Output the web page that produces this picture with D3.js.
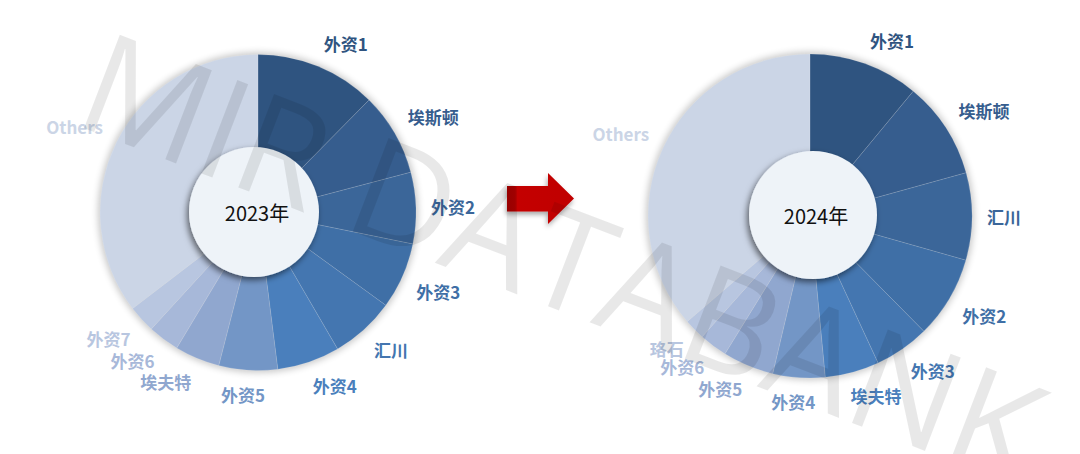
<!DOCTYPE html>
<html>
<head>
<meta charset="utf-8">
<script src="https://cdn.jsdelivr.net/npm/d3@7"></script>
<style>
  html, body { margin: 0; padding: 0; background: #ffffff; }
  svg { display: block; }
</style>
</head>
<body>
<svg id="chart" width="1080" height="454"></svg>
<script>
// ---------------- DATA ----------------
const categories2023 = ["外资1", "埃斯顿", "外资2", "外资3", "汇川", "外资4", "外资5", "埃夫特", "外资6", "外资7", "Others"];
const values2023     = [12.4, 8.5, 7.3, 6.8, 6.6, 6.4, 6.0, 4.6, 3.2, 2.8, 35.4];

const categories2024 = ["外资1", "埃斯顿", "汇川", "外资2", "外资3", "埃夫特", "外资4", "外资5", "外资6", "珞石", "Others"];
const values2024     = [11.0, 9.7, 8.7, 8.2, 5.5, 5.4, 5.2, 5.1, 2.8, 2.1, 36.3];

const years = ["2023年", "2024年"];
const watermark = "MIR DATABANK";

// colours by rank (darkest first)
const palette = ["#2F5480", "#365D8E", "#3B6699", "#3F6FA6", "#4476B0", "#4A7FBC",
                 "#7396C6", "#90A7CF", "#A7B8D9", "#B8C6E0", "#CBD5E6"];

// ---------------- LAYOUT ----------------
const svg = d3.select("#chart");
const defs = svg.append("defs");

const outerShadow = defs.append("filter").attr("id", "outerShadow")
  .attr("x", "-20%").attr("y", "-20%").attr("width", "140%").attr("height", "140%");
outerShadow.append("feGaussianBlur").attr("stdDeviation", 3.5);

const innerShadow = defs.append("filter").attr("id", "innerShadow")
  .attr("x", "-30%").attr("y", "-30%").attr("width", "160%").attr("height", "160%");
innerShadow.append("feDropShadow").attr("dx", -2).attr("dy", 3).attr("stdDeviation", 3)
  .attr("flood-color", "#000").attr("flood-opacity", 0.55);

const arrowGrad = defs.append("linearGradient").attr("id", "arrowGrad")
  .attr("x1", "0%").attr("x2", "100%").attr("y1", "0%").attr("y2", "0%");
arrowGrad.append("stop").attr("offset", "0%").attr("stop-color", "#A80000");
arrowGrad.append("stop").attr("offset", "12%").attr("stop-color", "#B00000");
arrowGrad.append("stop").attr("offset", "14%").attr("stop-color", "#C40000");
arrowGrad.append("stop").attr("offset", "100%").attr("stop-color", "#C00000");

const arrowShadow = defs.append("filter").attr("id", "arrowShadow")
  .attr("x", "-30%").attr("y", "-30%").attr("width", "160%").attr("height", "160%");
arrowShadow.append("feDropShadow").attr("dx", -1).attr("dy", 3).attr("stdDeviation", 2.5)
  .attr("flood-color", "#000").attr("flood-opacity", 0.35);

const charts = [
  { cats: categories2023, vals: values2023, year: years[0], cx: 258, cy: 212.5, R: 158, icx: 254, icy: 212, ir: 65 },
  { cats: categories2024, vals: values2024, year: years[1], cx: 810, cy: 216, R: 162, icx: 813, icy: 215, ir: 64 }
];

const pie = d3.pie().sort(null).value(d => d.v).startAngle(0).endAngle(2 * Math.PI);
const clamp = v => Math.max(-1, Math.min(1, v));

charts.forEach(c => {
  const data = c.cats.map((name, i) => ({ name, v: c.vals[i], i }));
  const arcs = pie(data);
  const arc = d3.arc().innerRadius(0).outerRadius(c.R);
  const g = svg.append("g").attr("transform", `translate(${c.cx},${c.cy})`);

  // soft outer shadow
  g.append("circle").attr("r", c.R + 2).attr("fill", "#000").attr("opacity", 0.22)
    .attr("filter", "url(#outerShadow)");

  g.selectAll("path.slice").data(arcs).enter().append("path")
    .attr("class", "slice")
    .attr("d", arc)
    .attr("fill", d => palette[d.data.i])
    .attr("stroke", "#ffffff").attr("stroke-opacity", 0.16).attr("stroke-width", 0.8);

  // center disc
  svg.append("circle").attr("cx", c.icx).attr("cy", c.icy).attr("r", c.ir)
    .attr("fill", "#EEF3F8").attr("filter", "url(#innerShadow)");
  svg.append("text").attr("x", c.icx + 3).attr("y", c.icy)
    .attr("text-anchor", "middle").attr("dominant-baseline", "central")
    .attr("font-family", "'Noto Sans CJK SC', 'Noto Sans', sans-serif")
    .attr("font-size", 20).attr("fill", "#111")
    .text(c.year);

  // labels
  const gap = 15, h = 18;
  arcs.forEach(d => {
    const a = (d.startAngle + d.endAngle) / 2;
    const s = Math.sin(a), co = Math.cos(a);
    const t = g.append("text")
      .attr("font-family", "'Noto Sans CJK SC', 'Noto Sans', sans-serif")
      .attr("font-weight", 700).attr("font-size", 17)
      .attr("fill", palette[d.data.i])
      .attr("text-anchor", "middle").attr("dominant-baseline", "central")
      .text(d.data.name);
    const w = t.node().getComputedTextLength();
    const px = (c.R + gap) * s, py = -(c.R + gap) * co;
    const x = px + (w / 2) * clamp(3 * s);
    const y = py - (h / 2) * clamp(3 * co);
    t.attr("x", x).attr("y", y);
  });
});

// arrow
const arrowPts = [[507, 186], [548, 186], [548, 173], [574, 198.5], [548, 224], [548, 211.5], [507, 211.5]];
svg.append("polygon").attr("points", arrowPts.map(p => p.join(",")).join(" "))
  .attr("fill", "url(#arrowGrad)").attr("filter", "url(#arrowShadow)");

// watermark
svg.append("text")
  .attr("transform", "translate(564,254) rotate(21)")
  .attr("text-anchor", "middle").attr("dominant-baseline", "central")
  .attr("font-family", "'Open Sans', sans-serif").attr("font-weight", 400)
  .attr("font-size", 140).attr("fill", "#000").attr("fill-opacity", 0.09)
  .text(watermark);
</script>
</body>
</html>
